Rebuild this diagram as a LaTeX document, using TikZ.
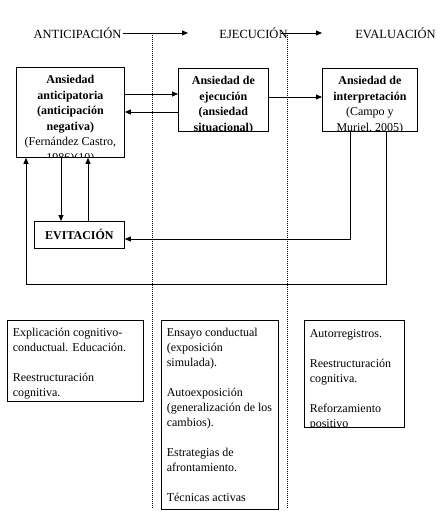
\documentclass[tikz,border=0pt]{standalone}
\usepackage{fontspec}
\setmainfont{Liberation Serif}
\usetikzlibrary{arrows.meta,calc}
\begin{document}
\begin{tikzpicture}[x=1pt,y=-1pt,
  arr/.style={-{Triangle[length=6pt,width=5pt]}, line width=0.8pt},
  box/.style={draw, line width=0.8pt, anchor=north west, inner sep=0pt},
  sep/.style={line width=0.7pt, dash pattern=on 1pt off 1pt},
  head/.style={font=\fontsize{12.5}{14}\selectfont, inner sep=1pt},
  ctext/.style={draw=none, minimum width=0pt, minimum height=0pt, anchor=north, align=center, inner sep=0pt, font=\fontsize{12}{15.5}\selectfont},
  ltext/.style={draw=none, minimum width=0pt, minimum height=0pt, anchor=north west, align=left, inner sep=0pt, font=\fontsize{12}{15}\selectfont},
]
\useasboundingbox (0,0) rectangle (440,524);
% separators
\draw[sep] (152,33) -- (152,509);
\draw[sep] (287,33) -- (287,509);
% header
\node[head] (ant) at (77.5,33) {ANTICIPACIÓN};
\node[head] (eje) at (253.5,33) {EJECUCIÓN};
\node[head] (eva) at (395.5,33) {EVALUACIÓN};
\coordinate (h1) at (188,33);
\coordinate (h2s) at (281,33);
\coordinate (h2) at (322,33);
\draw[arr] (ant.east) -- (h1);
\draw[arr] (h2s) -- (h2);
% main boxes
\node[box, minimum width=108pt, minimum height=90pt,
  path picture={\node[ctext] at ([yshift=-7.5pt]path picture bounding box.north)
  {\bfseries Ansiedad\\\bfseries anticipatoria\\\bfseries (anticipación\\\bfseries negativa)\\(Fernández Castro,\\1986)(10)};}] (b1) at (16,67) {};
\node[box, minimum width=90pt, minimum height=63pt,
  path picture={\node[ctext] at ([yshift=-7.5pt]path picture bounding box.north)
  {\bfseries Ansiedad de\\\bfseries ejecución\\\bfseries (ansiedad\\\bfseries situacional)};}] (b2) at (178,68) {};
\node[box, minimum width=95pt, minimum height=63pt,
  path picture={\node[ctext] at ([yshift=-7.5pt]path picture bounding box.north)
  {\bfseries Ansiedad de\\\bfseries interpretación\\(Campo y\\Muriel, 2005)};}] (b3) at (322,68) {};
\node[box, minimum width=90pt, minimum height=27pt, font=\fontsize{12}{14}\bfseries] (evit) at (34,221) {EVITACIÓN};
% connectors
\draw[arr] (b1.east |- 0,94) -- (b2.west |- 0,94);
\draw[arr] (b2.west |- 0,112) -- (b1.east |- 0,112);
\draw[arr] (b2.east |- 0,97) -- (b3.west |- 0,97);
\draw[arr] (b1.south -| 61,0) -- (evit.north -| 61,0);
\draw[arr] (evit.north -| 88,0) -- (b1.south -| 88,0);
\draw[arr] (b3.south -| 350,0) |- (evit.east |- 0,239);
\coordinate (loopL) at (26,284);
\draw[arr] (b3.south -| 386,0) |- (loopL) -- (b1.south -| 26,0);
% bottom boxes
\node[box, minimum width=136pt, minimum height=81pt,
  path picture={\node[ltext] at ([xshift=5pt,yshift=-7pt]path picture bounding box.north west)
  {Explicación cognitivo-\\conductual. Educación.\\[15pt]Reestructuración\\cognitiva.};}] (ba) at (7,320) {};
\node[box, minimum width=117pt, minimum height=189pt,
  path picture={\node[ltext] at ([xshift=5pt,yshift=-7pt]path picture bounding box.north west)
  {Ensayo conductual\\(exposición\\simulada).\\[15pt]Autoexposición\\(generalización de los\\cambios).\\[15pt]Estrategias de\\afrontamiento.\\[15pt]Técnicas activas};}] (bb) at (161,320) {};
\node[box, minimum width=100pt, minimum height=107pt,
  path picture={\node[ltext] at ([xshift=5pt,yshift=-8.5pt]path picture bounding box.north west)
  {Autorregistros.\\[15pt]Reestructuración\\cognitiva.\\[15pt]Reforzamiento\\positivo};}] (bc) at (304,320) {};
\end{tikzpicture}
\end{document}
